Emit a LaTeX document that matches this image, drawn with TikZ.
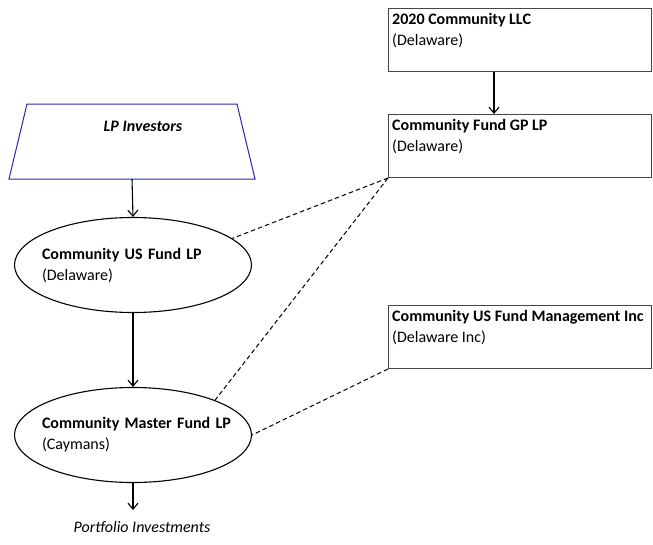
\documentclass[tikz,border=0pt]{standalone}
\usepackage{fontspec}
\setmainfont{Carlito}
\usetikzlibrary{shapes.geometric,arrows.meta}
\definecolor{boxgray}{RGB}{70,70,70}
\definecolor{lpblue}{RGB}{40,40,170}
\begin{document}
\begin{tikzpicture}[x=1pt,y=-1pt,
  font=\fontsize{16}{21}\selectfont,
  box/.style={draw=boxgray, line width=1pt, minimum width=263pt, minimum height=63pt, inner sep=0pt, anchor=north west},
  boxtext/.style={anchor=north west, align=left, inner sep=0pt, xshift=4pt, yshift=-5pt},
  ell/.style={draw, ellipse, line width=1.1pt, minimum width=237pt, minimum height=95pt, inner sep=0pt},
  elltext/.style={anchor=center, align=left, text width=210pt, inner sep=0pt, xshift=14pt},
  arr/.style={-{Straight Barb[length=6pt,width=10pt]}, line width=1.1pt},
  dashline/.style={dash pattern=on 4.5pt off 3pt, line width=1pt}]
\useasboundingbox (0,0) rectangle (653,544);

\node[box, label={[boxtext]north west:\textbf{2020 Community LLC}\\(Delaware)}] (llc) at (388,8) {};
\node[box, label={[boxtext]north west:\textbf{Community Fund GP LP}\\(Delaware)}] (gp) at (388,114) {};
\node[box, label={[boxtext]north west:\textbf{Community US Fund Management Inc}\\(Delaware Inc)}] (mgmt) at (388,305) {};

\draw[lpblue, line width=1pt] (27,104) -- (237,104) -- (255,179) -- (9,179) -- cycle;
\node (lp) at (143,126) {\textbf{\textit{LP Investors}}};
\coordinate (lpb) at (132,179);

\node[ell, label={[elltext]center:\textbf{Community US Fund LP}\\(Delaware)}] (us) at (133,265) {};
\node[ell, label={[elltext]center:\textbf{Community Master Fund LP}\\(Caymans)}] (mf) at (133,435) {};

\node (pi) at (142,527) {\itshape Portfolio Investments};
\coordinate (pit) at (133,510);

\draw[arr] (llc.south -| 494,0) -- (gp.north -| 494,0);
\draw[arr] (lpb) -- (us.north);
\draw[arr] (us.south) -- (mf.north);
\draw[arr] (mf.south) -- (pit);

\draw[dashline] (gp.south west) -- (us.15);
\draw[dashline] (gp.south west) -- (mf.23);
\draw[dashline] (mgmt.south west) -- (mf.east);
\end{tikzpicture}
\end{document}
